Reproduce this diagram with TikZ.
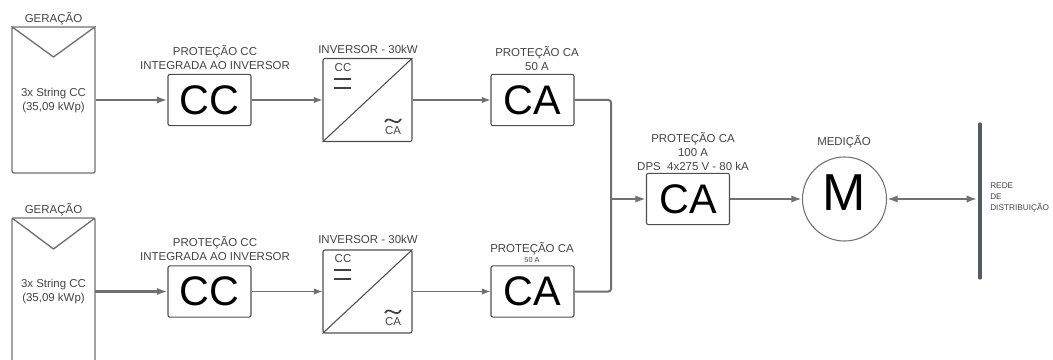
\documentclass[tikz,border=0pt]{standalone}
\usepackage{fontspec}
\setmainfont{Liberation Sans}
\usetikzlibrary{arrows.meta}
\definecolor{ln}{HTML}{707070}
\definecolor{txt}{HTML}{444444}
\definecolor{barc}{HTML}{565A60}
\tikzset{
  box/.style={draw=ln!70!black,line width=0.8pt,rounded corners=1.5pt,fill=white,minimum width=62.25pt,minimum height=38.5pt,inner sep=0pt,text=black,font=\fontsize{31}{31}\selectfont},
  panelbox/.style={draw=ln,line width=1pt,rounded corners=1.5pt,minimum width=62.25pt,inner sep=0pt},
  invbox/.style={draw=ln!70!black,line width=0.8pt,rounded corners=1.5pt,minimum width=66.75pt,minimum height=62.25pt,inner sep=0pt},
  lbl/.style={font=\fontsize{8.6}{10.5}\selectfont,text=txt,align=center,inner sep=0pt},
  thinw/.style={draw=ln,line width=0.9pt,-{Latex[length=6.5pt,width=4.8pt]}},
  thickw/.style={draw=ln,line width=1.6pt,-{Latex[length=8pt,width=5.5pt]}},
  wire/.style={draw=ln,line width=1.5pt,rounded corners=2pt},
  eqline/.style={draw=black!75,line width=1.4pt},
  tilde/.style={draw=black!75,line width=1.3pt},
}
\begin{document}
\begin{tikzpicture}[x=0.75pt,y=-0.75pt]
\useasboundingbox (0,0) rectangle (1053,360);
% ---- top row
\node[panelbox,minimum height=109.5pt] (p1) at (53.5,100) {};
\draw[draw=ln,line width=1pt,line join=round] (p1.north west) -- (53.5,57) -- (p1.north east);
\node[lbl] (g1) at (53.5,19) {GERAÇÃO};
\node[lbl] (s1) at (53.5,100.5) {3x String CC\\(35,09 kWp)};
\node[box] (cc1) at (209.5,100) {CC};
\node[lbl] (lc1) at (215,58) {PROTEÇÃO CC\\INTEGRADA AO INVERSOR};
\node[invbox] (inv1) at (367.5,100) {};
\draw[ln!70!black,line width=0.8pt] (inv1.south west) -- (inv1.north east);
\node[lbl] (li1) at (368,49.5) {INVERSOR - 30kW};
\node[lbl] (ic1) at (343,68) {CC};
\draw[eqline] (334,79) -- (351,79) (334,88) -- (351,88);
\draw[tilde] (385,122) .. controls (389,114) and (396,128) .. (401,119);
\node[lbl] (ia1) at (393,131) {CA};
\node[box] (ca1) at (532.5,100) {CA};
\node[lbl] (lca1) at (537,59) {PROTEÇÃO CA\\50 A};
% ---- bottom row
\draw[draw=ln,line width=1pt,rounded corners=1.5pt] (12,360) -- (12,218) -- (95,218) -- (95,360);
\coordinate (p2e) at (95,291.5);
\draw[draw=ln,line width=1pt,line join=round] (12,218) -- (53.5,249) -- (95,218);
\node[lbl] (g2) at (53.5,209.5) {GERAÇÃO};
\node[lbl] (s2) at (53.5,292) {3x String CC\\(35,09 kWp)};
\node[box] (cc2) at (209.5,291.5) {CC};
\node[lbl] (lc2) at (215,249) {PROTEÇÃO CC\\INTEGRADA AO INVERSOR};
\node[invbox] (inv2) at (367.5,291.5) {};
\draw[ln!70!black,line width=0.8pt] (inv2.south west) -- (inv2.north east);
\node[lbl] (li2) at (368,239) {INVERSOR - 30kW};
\node[lbl] (ic2) at (343,259) {CC};
\draw[eqline] (334,270) -- (351,270) (334,279) -- (351,279);
\draw[tilde] (385,313) .. controls (389,305) and (396,319) .. (401,310);
\node[lbl] (ia2) at (393,322) {CA};
\node[box] (ca2) at (532.5,291.5) {CA};
\node[lbl] (lca2) at (532,249) {PROTEÇÃO CA};
\node[lbl,font=\fontsize{5.5}{6}\selectfont] (lca2b) at (532,259.5) {50 A};
% ---- right part
\node[box] (ca3) at (688,199) {CA};
\node[lbl] (lca3) at (693,152) {PROTEÇÃO CA\\100 A\\DPS\ \ 4x275 V - 80 kA};
\node[circle,draw=ln,line width=0.8pt,minimum size=63pt,inner sep=0pt,text=black,font=\fontsize{39}{39}\selectfont] (m) at (844.5,199) {\raisebox{4.5pt}[\height][\depth]{M}};
\node[lbl] (lm) at (844,142) {MEDIÇÃO};
\coordinate (bt) at (980,124);
\coordinate (bb) at (980,278);
\coordinate (bm) at (980,199);
\draw[draw=barc,line width=2.5pt,line cap=round] (bt) -- (bb);
\node[lbl,align=left,anchor=west,font=\fontsize{6.2}{8.6}\selectfont] (r) at (990,197.5) {REDE\\DE\\DISTRIBUIÇÃO};
\coordinate (j) at (611,199);
% ---- connectors
\draw[thickw] (p1.east) -- (cc1.west);
\draw[thinw] (cc1.east) -- (inv1.west);
\draw[thinw] (inv1.east) -- (ca1.west);
\draw[thickw] (p2e) -- (cc2.west);
\draw[thinw] (cc2.east) -- (inv2.west);
\draw[thinw] (inv2.east) -- (ca2.west);
\draw[wire] (ca1.east) -| (j);
\draw[wire] (ca2.east) -| (j);
\draw[thickw] (j) -- (ca3.west);
\draw[thickw] (ca3.east) -- (m.west);
\draw[thickw,{Latex[length=8pt,width=5.5pt]}-{Latex[length=8pt,width=5.5pt]},shorten >=2pt] (m.east) -- (bm);
\end{tikzpicture}
\end{document}
